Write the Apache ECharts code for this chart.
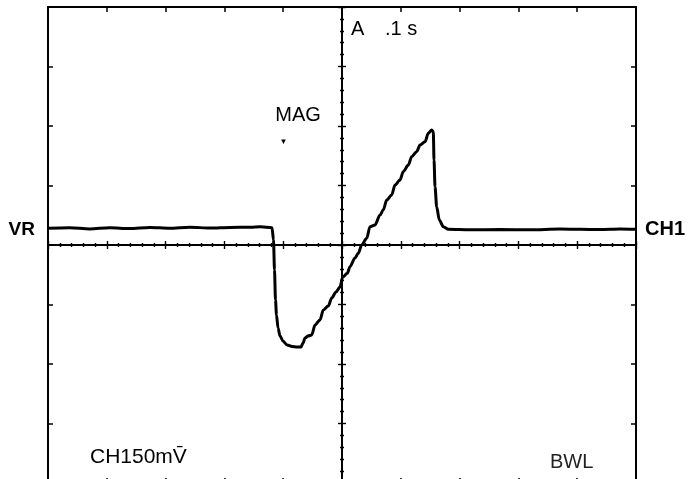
<!DOCTYPE html>
<html>
<head>
<meta charset="utf-8">
<script src="https://cdn.jsdelivr.net/npm/echarts@6/dist/echarts.min.js"></script>
<style>
  html, body { margin: 0; padding: 0; background: #fff; }
  #chart { width: 691px; height: 479px; }
</style>
</head>
<body>
<div id="chart"></div>
<script>
// Time relative to screen centre (s), 0.1 s/div, 10 divisions
var timeS = [
  -0.5, -0.463, -0.429, -0.395, -0.361, -0.327, -0.293, -0.259, -0.224, -0.19, -0.156, -0.139, -0.119,
  -0.1165, -0.1148, -0.1131, -0.1114, -0.1088, -0.1054, -0.1003, -0.0935, -0.085, -0.0765, -0.0697,
  -0.0663, -0.0629, -0.0578, -0.0515, -0.0459, -0.0374, -0.0318, -0.0233, -0.0175, -0.0102, -0.0034,
  0.0012, 0.009, 0.0136, 0.0221, 0.0277, 0.0335, 0.042, 0.0476, 0.0561, 0.0646, 0.0702, 0.076,
  0.0845, 0.0901, 0.0986, 0.1042, 0.1128, 0.1185, 0.127, 0.1327, 0.1412, 0.1468, 0.1526,
  0.1553, 0.1565, 0.1582, 0.161, 0.1655, 0.1723, 0.1808,
  0.2177, 0.2687, 0.3197, 0.3707, 0.4048, 0.4388, 0.4728, 0.5
];
// CH1 voltage (mV), 50 mV/div
var voltageMV = [
  14, 14.5, 13.5, 14.5, 13.8, 14.8, 14, 15, 14.2, 14.8, 15, 15.3, 14.5,
  4.2, -21, -46.2, -58.8, -69.7, -76.5, -80.7, -84, -85.3, -85.7, -85.7,
  -82.4, -78.2, -76.5, -75.6, -67.2, -63, -54.6, -51.3, -44.5, -39.5, -35.3,
  -26.9, -23.8, -18.2, -10.9, -7, 0, 5.6, 15.4, 16.8, 25.2, 29.4, 37.8,
  42, 50.4, 54.6, 61.6, 67.2, 74.2, 78.4, 84, 86.8, 93.9, 96.6,
  95.2, 71.4, 49, 32.2, 21, 15.4, 13.2,
  12.8, 13, 12.8, 13.4, 13.2, 13, 13.4, 13.2
];
var timeRange = [-0.5, 0.5];
var timeDiv = 0.1;
var voltRange = [-200, 200];
var voltDiv = 50;

var trace = timeS.map(function (t, i) { return [t, voltageMV[i]]; });

var black = '#000';
function frameX(pos) {
  return {
    type: 'value', position: pos, min: timeRange[0], max: timeRange[1], interval: timeDiv,
    axisLine: { show: true, onZero: false, lineStyle: { color: black, width: 2 } },
    axisTick: { show: true, inside: true, length: 5, lineStyle: { color: black, width: 1.5 } },
    axisLabel: { show: false }, splitLine: { show: false }
  };
}
function frameY(pos) {
  return {
    type: 'value', position: pos, min: voltRange[0], max: voltRange[1], interval: voltDiv,
    axisLine: { show: true, onZero: false, lineStyle: { color: black, width: 2 } },
    axisTick: { show: true, inside: true, length: 5, lineStyle: { color: black, width: 1.5 } },
    axisLabel: { show: false }, splitLine: { show: false }
  };
}
function centreX(inside) {
  return {
    type: 'value', position: 'bottom', min: timeRange[0], max: timeRange[1], interval: timeDiv,
    axisLine: { show: true, onZero: true, onZeroAxisIndex: 0, lineStyle: { color: black, width: 1.8 } },
    axisTick: { show: true, inside: inside, length: 4, lineStyle: { color: black, width: 1.4 } },
    minorTick: { show: true, splitNumber: 5, length: 2, lineStyle: { color: black, width: 1.4 } },
    axisLabel: { show: false }, splitLine: { show: false }, minorSplitLine: { show: false }
  };
}
function centreY(inside) {
  return {
    type: 'value', position: 'left', min: voltRange[0], max: voltRange[1], interval: voltDiv,
    axisLine: { show: true, onZero: true, onZeroAxisIndex: 0, lineStyle: { color: black, width: 1.8 } },
    axisTick: { show: true, inside: inside, length: 4, lineStyle: { color: black, width: 1.4 } },
    minorTick: { show: true, splitNumber: 5, length: 2, lineStyle: { color: black, width: 1.4 } },
    axisLabel: { show: false }, splitLine: { show: false }, minorSplitLine: { show: false }
  };
}

var font = '"Liberation Sans", Arial, sans-serif';
function txt(text, x, y, size, align, weight, color) {
  return {
    type: 'text', x: x, y: y, silent: true,
    style: { text: text, fontSize: size, fontFamily: font, fontWeight: weight || 'normal',
             fill: color || '#000', align: align || 'left', verticalAlign: 'middle' }
  };
}

var chart = echarts.init(document.getElementById('chart'), null, { renderer: 'canvas' });
chart.setOption({
  animation: false,
  backgroundColor: '#fff',
  grid: { left: 48, right: 55, top: 7, bottom: -4, containLabel: false, outerBoundsMode: 'none' },
  xAxis: [frameX('bottom'), frameX('top'), centreX(true), centreX(false)],
  yAxis: [frameY('left'), frameY('right'), centreY(true), centreY(false)],
  series: [{
    type: 'line', xAxisIndex: 0, yAxisIndex: 0, data: trace,
    showSymbol: false, smooth: 0.3, smoothMonotone: 'x',
    lineStyle: { color: '#000', width: 3 }
  }],
  graphic: [
    txt('VR', 35, 229.5, 19, 'right', 'bold'),
    txt('CH1', 645, 229, 20, 'left', 'bold'),
    txt('A', 351, 29, 20, 'left'),
    txt('.1 s', 385, 29, 20, 'left'),
    txt('MAG', 298, 115, 20, 'center'),
    txt('\u25BC', 283.5, 142, 8, 'center'),
    txt('CH150mV\u0304', 90, 457.5, 21, 'left'),
    txt('BWL', 550, 462, 20, 'left', 'normal', '#222')
  ]
});
</script>
</body>
</html>
